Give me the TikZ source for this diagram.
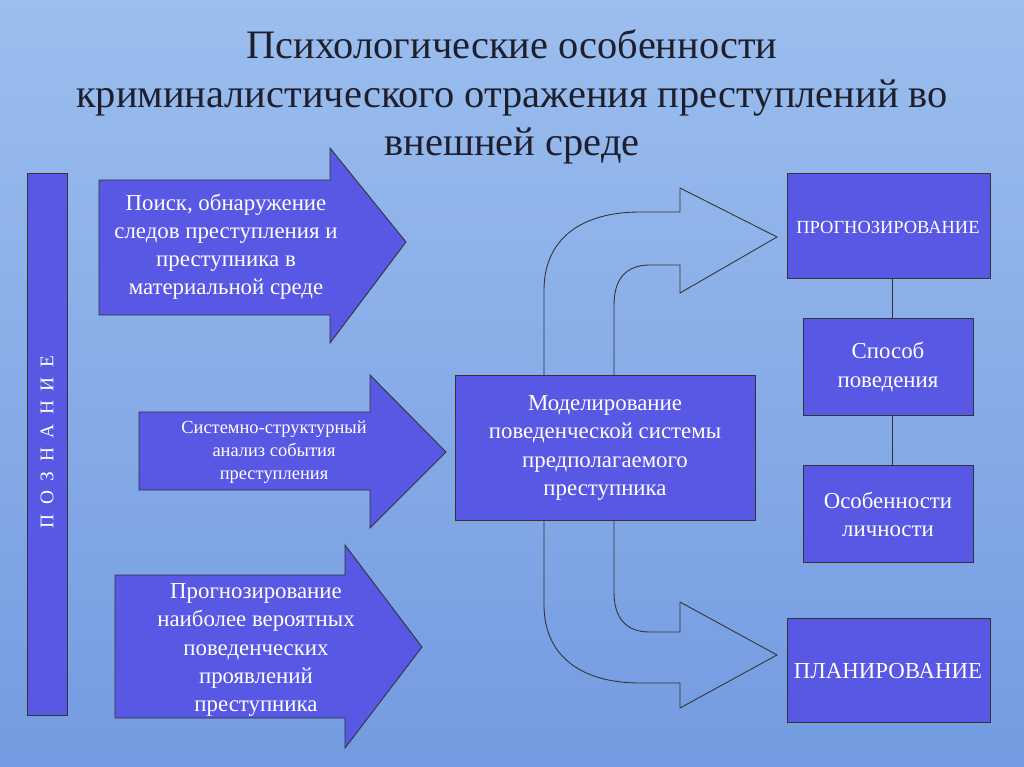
\documentclass[tikz,border=0pt]{standalone}
\usepackage{fontspec}
\setmainfont{Liberation Serif}
\begin{document}
\begin{tikzpicture}[x=0.02cm,y=-0.02cm,
  box/.style={draw=black!80,fill=boxc,line width=0.5pt},
  txt/.style={text=white,align=center,font=\fontsize{13}{16}\selectfont},
  small/.style={text=white,align=center,font=\fontsize{10.5}{13}\selectfont},
  link/.style={draw=black!80,line width=0.5pt}]
\definecolor{boxc}{RGB}{88,88,228}
\definecolor{skytop}{RGB}{155,190,238}
\definecolor{skybot}{RGB}{115,155,225}
\definecolor{titlec}{RGB}{30,30,45}
\useasboundingbox (0,0) rectangle (1024,767);
\shade[top color=skytop,bottom color=skybot] (0,0) rectangle (1024,767);
% title
\node[text=titlec,align=center,font=\fontsize{23}{27.5}\selectfont] (title) at (512,97)
 {Психологические особенности\\криминалистического отражения преступлений во\\внешней среде};
% left bar
\draw[box] (27,173) rectangle (67,715);
\node[rotate=90,text=white,font=\fontsize{11}{12}\selectfont] (bar) at (47,442) {П\enspace О\enspace З\enspace Н\enspace А\enspace Н\enspace И\enspace Е};
% arrows
\draw[box] (99,180) -- (330,180) -- (330,148) -- (406,242) -- (330,343) -- (330,315) -- (99,315) -- cycle;
\node[txt] (a1) at (226,247) {Поиск, обнаружение\\следов преступления и\\преступника в\\материальной среде};
\draw[box] (139,412) -- (370,412) -- (370,375) -- (446,452) -- (370,528) -- (370,490) -- (139,490) -- cycle;
\node[small] (a2) at (274,452) {Системно-структурный\\анализ события\\преступления};
\draw[box] (115,575) -- (345,575) -- (345,545) -- (422,647) -- (345,748) -- (345,718) -- (115,718) -- cycle;
\node[txt] (a3) at (256,650) {Прогнозирование\\наиболее вероятных\\поведенческих\\проявлений\\преступника};
% center
\draw[box] (455,375) rectangle (755,520);
\node[txt] (c) at (605,448) {Моделирование\\поведенческой системы\\предполагаемого\\преступника};
% curved arrows
\draw[link] (544,375) -- (544,290) .. controls (544,240) and (580,212) .. (640,212) -- (680,212) -- (680,188) -- (777,237) -- (680,293) -- (680,265) -- (650,265) .. controls (625,265) and (614,280) .. (614,305) -- (614,375);
\draw[link] (544,520) -- (544,605) .. controls (544,655) and (580,683) .. (640,683) -- (680,683) -- (680,708) -- (777,655) -- (680,602) -- (680,632) -- (650,632) .. controls (625,632) and (614,617) .. (614,592) -- (614,520);
% right boxes
\draw[box] (787,173) rectangle (990,278);
\node[small] (p) at (888,227) {ПРОГНОЗИРОВАНИЕ};
\draw[box] (803,318) rectangle (973,415);
\node[txt] (s) at (888,367) {Способ\\поведения};
\draw[box] (803,465) rectangle (973,562);
\node[txt] (o) at (888,514) {Особенности\\личности};
\draw[box] (787,618) rectangle (990,722);
\node[txt] (pl) at (888,671) {ПЛАНИРОВАНИЕ};
\draw[link] (892,278) -- (892,318);
\draw[link] (892,415) -- (892,465);
\end{tikzpicture}
\end{document}
